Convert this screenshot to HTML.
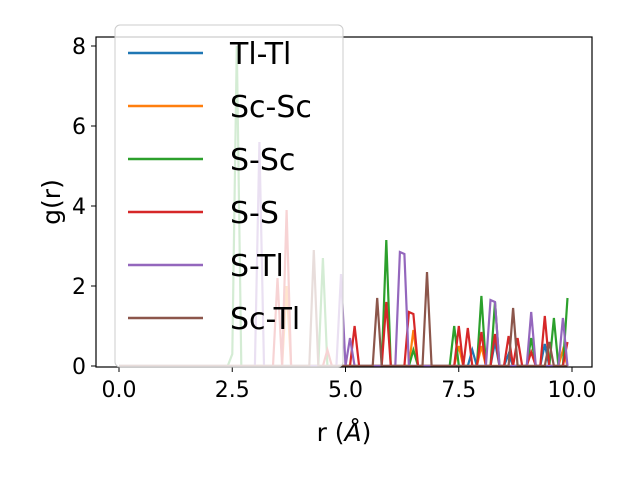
<!DOCTYPE html>
<html><head><meta charset="utf-8"><style>
body{margin:0;background:#fff}
svg text{font-family:"DejaVu Sans","Liberation Sans",sans-serif;fill:#000}
</style></head><body>
<svg id="chart" width="640" height="480" xmlns="http://www.w3.org/2000/svg">
<g id="series"></g>
<rect x="96" y="37" width="496" height="330" fill="none" stroke="#000" stroke-width="1.2"/>
<g id="ticks"></g>
<text x="344" y="441" font-size="25" text-anchor="middle">r (<tspan font-style="italic">Å</tspan>)</text>
<text transform="translate(60,202) rotate(-90)" font-size="25" text-anchor="middle">g(r)</text>
<g id="legend"></g>
</svg>
<script>
const seriesNames = ["Tl-Tl","Sc-Sc","S-Sc","S-S","S-Tl","Sc-Tl"];
const colors = ["#1f77b4","#ff7f0e","#2ca02c","#d62728","#9467bd","#8c564b"];
const xTicks = [0,2.5,5,7.5,10];
const xTickLabels = ["0.0","2.5","5.0","7.5","10.0"];
const yTicks = [0,2,4,6,8];
const yTickLabels = ["0","2","4","6","8"];
// peaks as [r, g] pairs on a 0.1 grid (r 0..9.9); all other bins are 0
const peaksTlTl = [[7.8,0.4],[8.3,0.6],[8.6,0.3],[9.4,0.55]];
const peaksScSc = [[3.7,2.0],[6.5,0.9],[7.5,0.5],[8.0,0.5],[9.8,0.4]];
const peaksSSc = [[2.5,0.3],[2.6,8.0],[4.5,2.7],[5.9,3.15],[6.5,0.4],[7.4,1.0],[8.0,1.75],[8.3,1.6],[9.1,0.7],[9.6,1.2],[9.9,1.7]];
const peaksSS = [[3.5,2.2],[3.7,3.9],[4.6,0.4],[5.2,1.0],[5.9,1.6],[6.4,1.35],[6.5,1.3],[7.5,1.0],[7.7,0.95],[8.0,0.85],[8.3,0.8],[8.6,0.75],[8.8,0.7],[9.1,0.35],[9.4,1.25],[9.9,0.6]];
const peaksSTl = [[3.1,5.6],[4.9,2.3],[5.1,0.7],[6.2,2.85],[6.3,2.8],[8.2,1.65],[8.3,1.6],[9.1,1.35],[9.8,1.2]];
const peaksScTl = [[4.3,2.9],[5.7,1.7],[6.8,2.35],[8.7,1.45],[9.5,0.6]];
const allPeaks = [peaksTlTl,peaksScSc,peaksSSc,peaksSS,peaksSTl,peaksScTl];
const X = r => 119 + r*45.3;
const Y = g => 366 - g*40;
const NS="http://www.w3.org/2000/svg";
const sg=document.getElementById('series');
allPeaks.forEach((pk,i)=>{
  const vals=new Array(100).fill(0);
  pk.forEach(([r,g])=>{vals[Math.round(r*10)]=g;});
  const pts=vals.map((v,k)=>X(k/10).toFixed(1)+','+Y(v).toFixed(1)).join(' ');
  const pl=document.createElementNS(NS,'polyline');
  pl.setAttribute('points',pts);pl.setAttribute('fill','none');
  pl.setAttribute('stroke',colors[i]);pl.setAttribute('stroke-width','2.2');
  
  
  sg.appendChild(pl);
});
const tg=document.getElementById('ticks');
xTicks.forEach((t,i)=>{
  const l=document.createElementNS(NS,'line');
  l.setAttribute('x1',X(t));l.setAttribute('x2',X(t));l.setAttribute('y1',367);l.setAttribute('y2',372);l.setAttribute('stroke','#000');
  
  
  tg.appendChild(l);
  const tx=document.createElementNS(NS,'text');
  tx.setAttribute('x',X(t));tx.setAttribute('y',397);tx.setAttribute('font-size','22');tx.setAttribute('text-anchor','middle');
  tx.textContent=xTickLabels[i];
  
  
  tg.appendChild(tx);
});
yTicks.forEach((t,i)=>{
  const l=document.createElementNS(NS,'line');
  l.setAttribute('x1',91);l.setAttribute('x2',96);l.setAttribute('y1',Y(t));l.setAttribute('y2',Y(t));l.setAttribute('stroke','#000');
  
  
  tg.appendChild(l);
  const tx=document.createElementNS(NS,'text');
  tx.setAttribute('x',86);tx.setAttribute('y',Y(t)+8);tx.setAttribute('font-size','22');tx.setAttribute('text-anchor','end');
  tx.textContent=yTickLabels[i];
  
  
  tg.appendChild(tx);
});
const lg=document.getElementById('legend');
const bx=document.createElementNS(NS,'rect');
bx.setAttribute('x',115);bx.setAttribute('y',25);bx.setAttribute('width',228);bx.setAttribute('height',342);bx.setAttribute('rx',5);
bx.setAttribute('fill','rgba(255,255,255,0.8)');bx.setAttribute('stroke','#ccc');


lg.appendChild(bx);
seriesNames.forEach((n,i)=>{
  const y=53+i*53;
  const l=document.createElementNS(NS,'line');
  l.setAttribute('x1',128);l.setAttribute('x2',203);l.setAttribute('y1',y);l.setAttribute('y2',y);
  l.setAttribute('stroke',colors[i]);l.setAttribute('stroke-width','2.5');
  
  
  lg.appendChild(l);
  const tx=document.createElementNS(NS,'text');
  tx.setAttribute('x',230);tx.setAttribute('y',y+11);tx.setAttribute('font-size','30');
  tx.textContent=n;
  
  
  lg.appendChild(tx);
});
</script>
</body></html>
